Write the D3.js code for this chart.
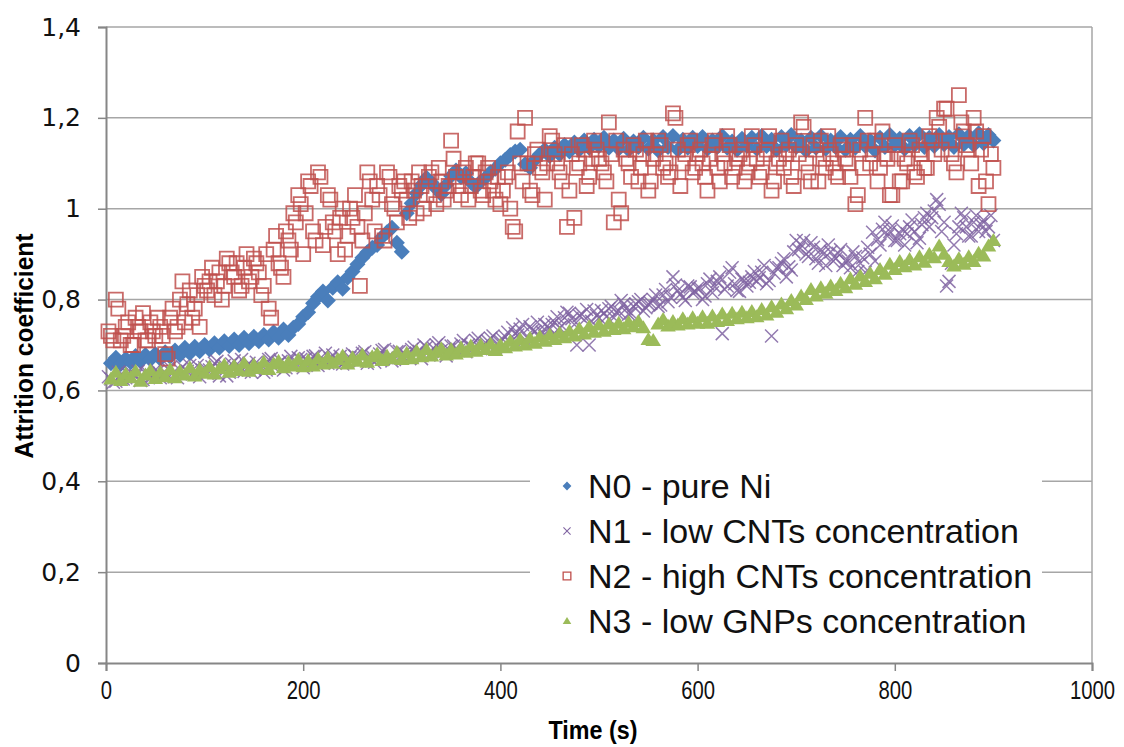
<!DOCTYPE html>
<html>
<head>
<meta charset="utf-8">
<script src="https://cdn.jsdelivr.net/npm/d3@7"></script>
<style>
body{margin:0;background:#fff;}
</style>
</head>
<body>
<div class="visual"></div>
<script>
//data: readings every 5 s
//(the two noisy series also have a second set of readings half a step earlier)
const timeStep = 5;
const n0 = [
  0.660,0.672,0.658,0.670,0.662,0.676,0.664,0.678,0.668,0.680,
  0.670,0.684,0.674,0.688,0.678,0.694,0.682,0.696,0.686,0.700,
  0.690,0.704,0.694,0.708,0.698,0.712,0.700,0.716,0.704,0.718,
  0.708,0.722,0.712,0.728,0.716,0.734,0.722,0.738,0.746,0.762,
  0.772,0.792,0.806,0.818,0.798,0.826,0.838,0.824,0.848,0.862,
  0.878,0.892,0.904,0.914,0.920,0.938,0.948,0.958,0.925,0.905,
  0.990,1.012,1.034,1.052,1.068,1.058,1.044,1.032,1.052,1.072,
  1.084,1.070,1.078,1.058,1.048,1.060,1.068,1.080,1.088,1.100,
  1.108,1.118,1.126,1.130,1.098,1.090,1.108,1.120,1.130,1.116,
  1.134,1.120,1.140,1.126,1.146,1.130,1.150,1.134,1.152,1.138,
  1.156,1.134,1.150,1.132,1.154,1.130,1.148,1.136,1.156,1.132,
  1.150,1.128,1.158,1.136,1.160,1.130,1.152,1.134,1.156,1.138,
  1.158,1.132,1.150,1.136,1.160,1.134,1.148,1.130,1.154,1.138,
  1.156,1.132,1.160,1.138,1.152,1.130,1.158,1.140,1.162,1.136,
  1.150,1.128,1.156,1.134,1.160,1.132,1.150,1.136,1.158,1.130,
  1.152,1.134,1.160,1.138,1.150,1.128,1.156,1.136,1.162,1.140,
  1.154,1.132,1.160,1.140,1.164,1.136,1.156,1.138,1.162,1.142,
  1.158,1.136,1.164,1.142,1.160,1.140,1.166,1.144,1.162,1.150
];
const n1 = [
  0.625,0.620,0.635,0.628,0.640,0.632,0.622,0.638,0.630,0.645,
  0.628,0.640,0.650,0.632,0.645,0.636,0.655,0.640,0.630,0.650,
  0.645,0.660,0.632,0.655,0.640,0.665,0.650,0.642,0.660,0.648,
  0.655,0.640,0.668,0.652,0.660,0.645,0.665,0.658,0.672,0.650,
  0.662,0.675,0.655,0.668,0.660,0.678,0.665,0.658,0.672,0.680,
  0.668,0.682,0.660,0.675,0.670,0.688,0.672,0.665,0.685,0.678,
  0.675,0.690,0.682,0.670,0.695,0.680,0.700,0.688,0.676,0.698,
  0.690,0.702,0.685,0.698,0.710,0.692,0.705,0.715,0.695,0.708,
  0.718,0.705,0.725,0.735,0.712,0.740,0.730,0.720,0.745,0.735,
  0.750,0.738,0.760,0.770,0.745,0.765,0.755,0.700,0.775,0.760,
  0.770,0.780,0.760,0.775,0.790,0.768,0.785,0.795,0.775,0.790,
  0.800,0.785,0.810,0.795,0.850,0.820,0.805,0.830,0.815,0.825,
  0.800,0.835,0.815,0.840,0.725,0.830,0.870,0.820,0.845,0.830,
  0.850,0.840,0.860,0.835,0.720,0.870,0.880,0.850,0.865,0.930,
  0.920,0.900,0.925,0.890,0.910,0.875,0.905,0.890,0.910,0.885,
  0.870,0.895,0.880,0.860,0.900,0.885,0.920,0.970,0.950,0.930,
  0.945,0.920,0.960,0.950,0.935,0.980,0.960,0.995,1.010,0.970,
  0.840,0.920,0.960,0.980,0.940,0.970,0.950,0.975,0.960,0.930
];
const n1b = [
  0.630,0.618,0.640,0.625,0.636,0.628,0.642,0.624,0.638,0.632,
  0.642,0.630,0.648,0.638,0.628,0.652,0.642,0.636,0.655,0.645,
  0.638,0.652,0.664,0.646,0.632,0.658,0.645,0.668,0.654,0.640,
  0.662,0.650,0.645,0.670,0.656,0.664,0.650,0.675,0.660,0.668,
  0.670,0.658,0.676,0.664,0.682,0.670,0.660,0.675,0.665,0.672,
  0.676,0.665,0.685,0.672,0.662,0.680,0.690,0.675,0.668,0.686,
  0.682,0.672,0.695,0.686,0.700,0.678,0.692,0.705,0.685,0.690,
  0.698,0.688,0.710,0.700,0.692,0.715,0.700,0.708,0.720,0.702,
  0.712,0.728,0.738,0.722,0.745,0.715,0.732,0.750,0.728,0.742,
  0.745,0.762,0.742,0.772,0.758,0.700,0.768,0.778,0.752,0.765,
  0.776,0.762,0.785,0.772,0.798,0.780,0.770,0.790,0.800,0.782,
  0.792,0.810,0.788,0.822,0.805,0.832,0.812,0.798,0.828,0.818,
  0.825,0.808,0.845,0.828,0.850,0.822,0.860,0.835,0.818,0.842,
  0.838,0.862,0.848,0.875,0.842,0.858,0.870,0.890,0.872,0.905,
  0.910,0.930,0.895,0.915,0.880,0.900,0.920,0.885,0.902,0.875,
  0.885,0.905,0.862,0.892,0.915,0.948,0.932,0.955,0.940,0.962,
  0.930,0.955,0.945,0.975,0.925,0.965,0.990,0.980,1.020,0.950,
  0.830,0.880,0.945,0.990,0.960,0.940,0.985,0.965,0.950,0.985
];
const n2 = [
  0.72,0.80,0.71,0.74,0.70,0.76,0.73,0.71,0.75,0.72,
  0.74,0.68,0.76,0.73,0.80,0.75,0.82,0.78,0.74,0.83,
  0.84,0.81,0.86,0.83,0.88,0.85,0.82,0.87,0.84,0.89,
  0.86,0.83,0.78,0.91,0.88,0.85,0.93,0.99,1.03,0.90,
  1.06,0.95,1.08,0.92,1.03,0.97,0.90,1.00,0.94,0.98,
  0.96,0.93,1.08,1.02,1.05,0.94,1.08,1.01,0.97,1.04,
  1.02,1.06,0.99,1.05,1.03,1.08,1.01,1.06,1.04,1.15,
  1.07,1.03,1.09,1.05,1.10,1.04,1.08,1.06,1.02,1.01,
  1.07,1.00,0.95,1.10,1.20,1.04,1.12,1.09,1.02,1.16,
  1.12,1.08,1.14,1.04,0.98,1.10,1.13,1.07,1.15,1.11,
  1.08,1.19,0.97,1.02,1.13,1.10,1.14,1.06,1.12,1.04,
  1.11,1.15,1.09,1.07,1.21,1.13,1.10,1.14,1.08,1.12,
  1.10,1.04,1.14,1.09,1.12,1.16,1.07,1.11,1.13,1.08,
  1.16,1.11,1.08,1.13,1.04,1.10,1.15,1.12,1.07,1.14,
  1.19,1.10,1.06,1.13,1.15,1.09,1.12,1.08,1.14,1.11,
  1.07,1.01,1.13,1.20,1.10,1.15,1.09,1.12,1.03,1.14,
  1.06,1.11,1.15,1.08,1.13,1.09,1.16,1.12,1.18,1.22,
  1.15,1.10,1.25,1.17,1.13,1.20,1.05,1.16,1.01,1.09
];
const n2b = [
  0.73,0.71,0.78,0.72,0.75,0.70,0.74,0.77,0.71,0.73,
  0.76,0.72,0.67,0.78,0.74,0.84,0.79,0.76,0.81,0.85,
  0.82,0.87,0.84,0.80,0.89,0.86,0.88,0.83,0.90,0.85,
  0.88,0.81,0.90,0.76,0.94,0.87,0.95,0.91,0.97,1.01,
  0.99,1.05,0.93,1.07,0.96,1.02,0.95,0.98,0.91,1.00,
  1.03,0.83,0.99,1.06,0.95,1.03,0.93,1.07,1.00,1.05,
  1.06,0.98,1.04,1.08,1.00,1.07,1.03,1.09,1.02,1.05,
  1.11,1.05,1.08,1.02,1.07,1.10,1.03,1.09,1.04,1.07,
  1.04,1.08,0.96,1.17,1.06,1.10,1.03,1.13,1.08,1.10,
  1.15,1.10,1.06,0.96,1.12,1.09,1.14,1.05,1.11,1.13,
  1.10,1.06,1.12,1.15,0.99,1.11,1.07,1.13,1.09,1.15,
  1.06,1.12,1.14,1.10,1.08,1.20,1.05,1.12,1.15,1.09,
  1.13,1.07,1.11,1.15,1.06,1.10,1.14,1.09,1.12,1.06,
  1.10,1.14,1.07,1.12,1.16,1.06,1.11,1.09,1.13,1.05,
  1.12,1.18,1.08,1.14,1.06,1.11,1.16,1.10,1.07,1.13,
  1.10,1.14,1.03,1.09,1.15,1.12,1.06,1.17,1.11,1.03,
  1.12,1.06,1.10,1.14,1.07,1.12,1.09,1.15,1.20,1.13,
  1.22,1.12,1.08,1.19,1.14,1.10,1.17,1.13,1.06,1.12
];
const n3 = [
  0.625,0.640,0.622,0.636,0.628,0.642,0.620,0.634,0.644,0.626,
  0.640,0.630,0.646,0.628,0.642,0.634,0.650,0.632,0.646,0.638,
  0.652,0.636,0.648,0.656,0.640,0.654,0.644,0.660,0.642,0.656,
  0.648,0.662,0.646,0.658,0.664,0.650,0.662,0.654,0.668,0.652,
  0.666,0.654,0.670,0.658,0.672,0.660,0.668,0.676,0.658,0.672,
  0.664,0.678,0.662,0.674,0.680,0.666,0.676,0.670,0.684,0.668,
  0.682,0.670,0.686,0.674,0.690,0.676,0.684,0.692,0.678,0.690,
  0.680,0.694,0.684,0.698,0.686,0.700,0.690,0.702,0.688,0.700,
  0.694,0.708,0.698,0.712,0.700,0.715,0.704,0.718,0.708,0.722,
  0.712,0.726,0.716,0.730,0.720,0.736,0.724,0.740,0.728,0.744,
  0.730,0.746,0.734,0.748,0.736,0.750,0.740,0.752,0.738,0.712,
  0.710,0.746,0.756,0.742,0.752,0.744,0.758,0.746,0.760,0.748,
  0.762,0.748,0.764,0.752,0.768,0.754,0.770,0.758,0.772,0.760,
  0.774,0.762,0.778,0.766,0.784,0.772,0.790,0.780,0.798,0.788,
  0.808,0.800,0.822,0.808,0.826,0.814,0.830,0.820,0.836,0.826,
  0.846,0.834,0.852,0.840,0.858,0.846,0.866,0.856,0.878,0.866,
  0.884,0.872,0.888,0.876,0.894,0.882,0.900,0.892,0.918,0.900,
  0.884,0.874,0.890,0.878,0.894,0.884,0.902,0.896,0.918,0.930
];
const seriesNames = ["N0 - pure Ni","N1 - low CNTs concentration","N2 - high CNTs concentration","N3 - low GNPs concentration"];
const xTicks = [0,200,400,600,800,1000];
const yTicks = [0,0.2,0.4,0.6,0.8,1,1.2,1.4];
const times = n0.map((d,i) => (i + 1) * timeStep);
const timesB = times.map(t => t - timeStep / 2);

//set constants
const margin = {top: 27, bottom: 84, left: 106, right: 32};
const width = 1124;
const height = 747;
const w = width - margin.left - margin.right;
const h = height - margin.top - margin.bottom;

const svg = d3.select(".visual")
  .append("svg")
  .attr("width", width)
  .attr("height", height);
const g = svg.append("g")
  .attr("transform", "translate(" + margin.left + "," + margin.top + ")");

const xScale = d3.scaleLinear().domain([0, 1000]).range([0, w]);
const yScale = d3.scaleLinear().domain([0, 1.4]).range([h, 0]);
const comma = d => String(d).replace(".", ",");

//gridlines
g.append("g")
  .selectAll("line")
  .data(yTicks.filter(d => d > 0))
  .enter()
  .append("line")
  .attr("x1", 0).attr("x2", w)
  .attr("y1", d => yScale(d)).attr("y2", d => yScale(d))
  .attr("stroke", "#a6a6a6")
  .attr("stroke-width", 1.5);
//right border
g.append("line")
  .attr("x1", w).attr("x2", w).attr("y1", 0).attr("y2", h)
  .attr("stroke", "#a6a6a6").attr("stroke-width", 1.5);

//axes
const yAxis = g.append("g")
  .call(d3.axisLeft(yScale).tickValues(yTicks).tickSize(8).tickPadding(17).tickFormat(comma));
const xAxis = g.append("g")
  .attr("transform", "translate(0," + h + ")")
  .call(d3.axisBottom(xScale).tickValues(xTicks).tickSize(8).tickPadding(10).tickFormat(d3.format("d")));
[xAxis, yAxis].forEach(a => {
  a.select(".domain").attr("stroke", "#868686").attr("stroke-width", 2);
  a.selectAll(".tick line").attr("stroke", "#868686").attr("stroke-width", 1.5);
});
yAxis.selectAll("text")
  .attr("font-family", "'DejaVu Sans', Verdana, sans-serif")
  .attr("font-size", 25)
  .attr("fill", "#111");
xAxis.selectAll("text")
  .attr("font-family", "'Liberation Sans', Arial, sans-serif")
  .attr("font-size", 26)
  .attr("transform", "scale(0.78,1)")
  .attr("fill", "#111");

//markers
const shapes = [
  "M0,-8L8,0L0,8L-8,0Z",
  "M-6.5,-6.5L6.5,6.5M-6.5,6.5L6.5,-6.5",
  "M-7,-7H7V7H-7Z",
  "M0,-7.5L7.8,5.5H-7.8Z"
];
const colors = ["#4a7ebb", "#8064a2", "#c0504d", "#9bbb59"];
const layers = [
  {vals: n0, t: times, s: 0},
  {vals: n1, t: times, s: 1},
  {vals: n1b, t: timesB, s: 1},
  {vals: n2, t: times, s: 2},
  {vals: n2b, t: timesB, s: 2},
  {vals: n3, t: times, s: 3}
];

layers.forEach(layer => {
  const s = layer.s;
  g.append("g")
    .selectAll("path")
    .data(layer.vals)
    .enter()
    .append("path")
    .attr("transform", (d,i) => "translate(" + xScale(layer.t[i]) + "," + yScale(d) + ")")
    .attr("d", shapes[s])
    .attr("fill", (s == 0 || s == 3) ? colors[s] : "none")
    .attr("stroke", colors[s])
    .attr("stroke-width", s == 2 ? 1.8 : (s == 1 ? 1.5 : 0))
    .attr("opacity", s == 2 ? 0.85 : (s == 1 ? 0.85 : 1));
});

//axis titles
svg.append("text")
  .attr("x", margin.left + xScale(500) - 6)
  .attr("y", 739)
  .attr("text-anchor", "middle")
  .attr("font-family", "'Liberation Sans', Arial, sans-serif")
  .attr("font-weight", "bold")
  .attr("font-size", 25)
  .attr("textLength", 89)
  .attr("lengthAdjust", "spacingAndGlyphs")
  .text("Time (s)");
svg.append("text")
  .attr("transform", "translate(33,346) rotate(-90)")
  .attr("text-anchor", "middle")
  .attr("font-family", "'Liberation Sans', Arial, sans-serif")
  .attr("font-weight", "bold")
  .attr("font-size", 26)
  .attr("textLength", 225)
  .attr("lengthAdjust", "spacingAndGlyphs")
  .text("Attrition coefficient");

//legend
svg.append("rect")
  .attr("x", 530).attr("y", 460)
  .attr("width", 512).attr("height", 184)
  .attr("fill", "#fff");
const legend = svg.selectAll(".legend")
  .data(seriesNames)
  .enter()
  .append("g")
  .attr("class", "legend")
  .attr("transform", (d,i) => "translate(567," + (486 + i * 45) + ")");
legend.append("path")
  .attr("d", (d,i) => shapes[i])
  .attr("transform", "scale(0.55)")
  .attr("fill", (d,i) => (i == 0 || i == 3) ? colors[i] : "none")
  .attr("stroke", (d,i) => colors[i])
  .attr("stroke-width", (d,i) => i == 2 ? 2.4 : (i == 1 ? 2 : 0));
legend.append("text")
  .attr("x", 21)
  .attr("y", 12)
  .attr("font-family", "'Liberation Sans', Arial, sans-serif")
  .attr("font-size", 34)
  .attr("fill", "#111")
  .text(d => d);
</script>
</body>
</html>
